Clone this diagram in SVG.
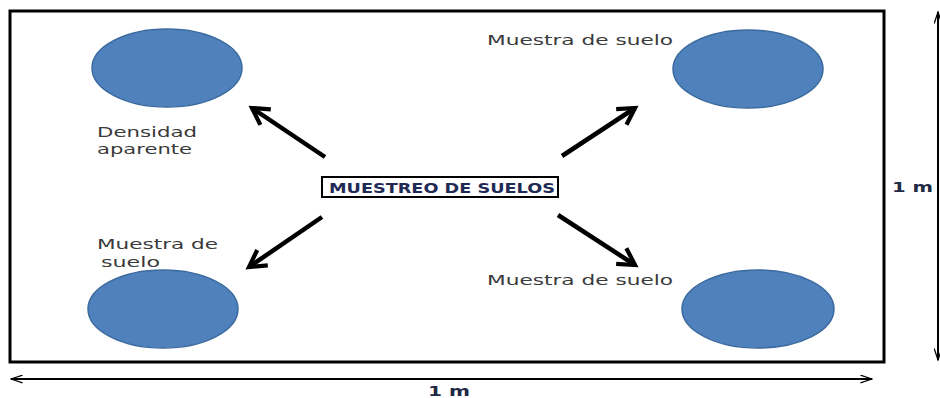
<svg xmlns="http://www.w3.org/2000/svg" width="940" height="398" viewBox="0 0 940 398">
<style>
.frame{fill:none;stroke:#000;stroke-width:3}
.sample{fill:#4F81BD;stroke:#3C6A9E;stroke-width:1.5}
.lbl{font-family:"DejaVu Sans","Verdana",sans-serif;font-size:14px;fill:#3a3a3a}
.dim{font-family:"DejaVu Sans",sans-serif;font-size:14px;font-weight:bold;fill:#1f2a44}
.conn{stroke:#000;stroke-width:4.5;fill:none}
.dimline{stroke:#000;stroke-width:2;fill:none}
</style>
<defs>
<marker id="ah" viewBox="0 0 10 10" refX="8" refY="5" markerWidth="5.2" markerHeight="5.2" orient="auto" markerUnits="strokeWidth">
<path d="M1,1 L8,5 L1,9" fill="none" stroke="#000" stroke-width="1.8"/>
</marker>
<marker id="oh" viewBox="0 0 20 14" refX="19" refY="7" markerWidth="13" markerHeight="9" orient="auto-start-reverse" markerUnits="userSpaceOnUse">
<path d="M1,1 L19,7 L1,13" fill="none" stroke="#000" stroke-width="2"/>
</marker>
</defs>
<rect width="940" height="398" fill="#fff"/>
<rect id="plot" class="frame" x="10" y="11" width="874" height="351"/>
<g id="n-tl">
<ellipse class="sample" cx="167" cy="68" rx="75" ry="39"/>
<text class="lbl" x="97" y="137" textLength="100" lengthAdjust="spacingAndGlyphs">Densidad</text>
<text class="lbl" x="97" y="154" textLength="95" lengthAdjust="spacingAndGlyphs">aparente</text>
</g>
<g id="n-tr">
<ellipse class="sample" cx="748" cy="69" rx="75" ry="39"/>
<text class="lbl" x="487" y="45" textLength="186" lengthAdjust="spacingAndGlyphs">Muestra de suelo</text>
</g>
<g id="n-bl">
<ellipse class="sample" cx="163" cy="309" rx="75" ry="39"/>
<text class="lbl" x="97" y="249" textLength="121" lengthAdjust="spacingAndGlyphs">Muestra de</text>
<text class="lbl" x="101" y="267" textLength="59" lengthAdjust="spacingAndGlyphs">suelo</text>
</g>
<g id="n-br">
<ellipse class="sample" cx="758" cy="309" rx="76" ry="39"/>
<text class="lbl" x="487" y="285" textLength="186" lengthAdjust="spacingAndGlyphs">Muestra de suelo</text>
</g>
<g id="n-center">
<rect x="322" y="177" width="236" height="20" fill="#fff" stroke="#000" stroke-width="2"/>
<text x="329" y="192.5" font-family="DejaVu Sans,sans-serif" font-size="14" font-weight="bold" fill="#1f2a55" textLength="226" lengthAdjust="spacingAndGlyphs">MUESTREO DE SUELOS</text>
</g>
<g id="connectors">
<line class="conn" x1="325" y1="157" x2="252" y2="108" marker-end="url(#ah)"/>
<line class="conn" x1="562" y1="156" x2="635" y2="108" marker-end="url(#ah)"/>
<line class="conn" x1="322" y1="217" x2="249" y2="267" marker-end="url(#ah)"/>
<line class="conn" x1="558" y1="215" x2="635" y2="265" marker-end="url(#ah)"/>
</g>
<g id="dimensions">
<line class="dimline" x1="11" y1="379" x2="872" y2="379" marker-start="url(#oh)" marker-end="url(#oh)"/>
<line class="dimline" x1="938" y1="12" x2="938" y2="360" marker-start="url(#oh)" marker-end="url(#oh)"/>
<text class="dim" x="428" y="396" textLength="42" lengthAdjust="spacingAndGlyphs">1 m</text>
<text class="dim" x="892" y="192" textLength="41" lengthAdjust="spacingAndGlyphs">1 m</text>
</g>
</svg>
